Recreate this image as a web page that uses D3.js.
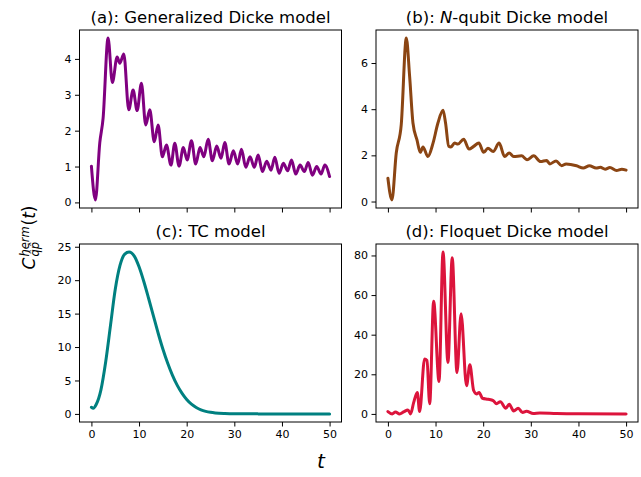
<!DOCTYPE html>
<html>
<head>
<meta charset="utf-8">
<script src="https://cdn.jsdelivr.net/npm/d3@7"></script>
<style>
  body { margin: 0; background: #fff; }
  text { font-family: "DejaVu Sans", sans-serif; }
</style>
</head>
<body>
<div id="chart"></div>
<script>
// (a) Generalized Dicke model
var tA = [0, 0.84, 1.75, 2.45, 3.5, 4.4, 5.4, 5.95, 6.8, 7.84, 8.75, 9.6, 10.5, 11.4, 12.25, 13.2, 14, 14.9,
  15.75, 16.7, 17.5, 18.4, 19.3, 20.1, 21, 21.9, 22.8, 23.6, 24.5, 25.4, 26.3, 27.2, 28, 28.9, 29.8, 30.7,
  31.5, 32.4, 33.3, 34.2, 35, 35.9, 36.8, 37.7, 38.5, 39.4, 40.3, 41.2, 42, 42.9, 43.8, 44.7, 45.5, 46.4,
  47.3, 48.2, 49, 50];
var cA = [1.01, 0.07, 1.65, 2.34, 4.58, 3.34, 4.05, 3.88, 4.14, 2.58, 3.13, 2.56, 3.32, 2.16, 2.58, 1.69, 2.16, 1.27,
  1.6, 1.04, 1.65, 1.01, 1.53, 1.18, 1.72, 1.07, 1.53, 1.27, 1.76, 1.16, 1.57, 1.23, 1.67, 1.07, 1.44, 1.07,
  1.48, 0.98, 1.27, 0.98, 1.32, 0.86, 1.15, 0.9, 1.26, 0.81, 1.09, 0.88, 1.18, 0.79, 1.04, 0.86, 1.11, 0.76,
  1.0, 0.79, 1.04, 0.72];

// (b) N-qubit Dicke model
var tB = [0, 0.84, 1.75, 2.8, 3.86, 4.56, 5.26, 6.1, 6.8, 7.36, 8.4, 9.47, 10.5, 11.57, 12.1, 12.76, 13.2, 14,
  14.7, 15.9, 17.04, 18, 19.1, 20.1, 21, 22.1, 23.35, 24.5, 25.46, 26.4, 28.05, 29.2, 30.6, 32.05, 33.3, 34,
  35.3, 36.5, 37.4, 39.6, 41, 42.3, 43.7, 44.6, 45.6, 46.6, 48, 49.1, 50];
var cB = [1.01, 0.07, 2.1, 3.33, 7.08, 5.42, 3.4, 2.67, 2.13, 2.36, 1.95, 2.53, 3.4, 3.95, 3.4, 2.39, 2.36, 2.53,
  2.49, 2.7, 2.27, 2.39, 2.53, 2.13, 2.31, 2.17, 2.53, 1.95, 2.1, 1.95, 1.98, 1.81, 1.98, 1.73, 1.78, 1.63,
  1.76, 1.55, 1.63, 1.55, 1.45, 1.55, 1.45, 1.48, 1.4, 1.47, 1.34, 1.4, 1.36];

// (c) TC model
var tC = [0, 0.4, 1, 2, 3, 4, 5, 6, 7, 7.9, 9, 10, 11, 12, 13, 14, 15, 16, 17, 18, 19, 20,
  21, 22, 23, 24, 25, 26, 28, 30, 35, 40, 50];
var cC = [1.0, 0.85, 1.4, 3.6, 7.8, 13.2, 18.6, 22.2, 23.9, 24.2, 23.6, 22.0, 19.8, 17.3, 14.7, 12.1, 9.7, 7.6, 5.8, 4.3, 3.1, 2.15,
  1.45, 0.95, 0.6, 0.38, 0.24, 0.15, 0.06, 0.02, 0.005, 0, 0];

// (d) Floquet Dicke model
var tD = [0, 0.9, 1.6, 2.45, 3.3, 4.2, 4.77, 5.4, 6.17, 6.66, 7.7, 8.2, 8.77, 9.6, 10.73, 11.57, 12.6, 13.5,
  14.5, 15.36, 16.5, 17.2, 18, 18.6, 19.15, 19.85, 21.04, 22.1, 22.8, 23.6, 24.75, 25.46, 26.4, 27.35,
  28.26, 29.1, 30.5, 31.9, 35.4, 40, 50];
var cD = [1.2, 0, 1, 0, 1, 2, 0, 5.7, 10.8, 1.2, 27.7, 27, 5.1, 56.9, 16.4, 81.7, 26, 78.8,
  20.9, 50.6, 14.2, 24.8, 11.8, 10.1, 10.8, 7.9, 7.4, 6.75, 5.1, 6.2, 2.9, 4.9, 1.5, 2.9,
  0.7, 1.35, 0.2, 0.5, 0.2, 0.05, 0];

var xTicks = [0, 10, 20, 30, 40, 50];
var yTicksA = [0, 1, 2, 3, 4];
var yTicksB = [0, 2, 4, 6];
var yTicksC = [0, 5, 10, 15, 20, 25];
var yTicksD = [0, 20, 40, 60, 80];

var w = 641, h = 477;
var pw = 262, ph = 178;

var svg = d3.select("#chart").append("svg")
    .attr("width", w)
    .attr("height", h);

var panels = [
  {t: tA, v: cA, yTicks: yTicksA, color: "#800080", left: 79.5, top: 30, xLabels: false, title: ["(a): Generalized Dicke model"]},
  {t: tB, v: cB, yTicks: yTicksB, color: "#8b4513", left: 376, top: 30, xLabels: false, title: ["(b): ", "N", "-qubit Dicke model"]},
  {t: tC, v: cC, yTicks: yTicksC, color: "#008080", left: 79.5, top: 244, xLabels: true, title: ["(c): TC model"]},
  {t: tD, v: cD, yTicks: yTicksD, color: "#dc143c", left: 376, top: 244, xLabels: true, title: ["(d): Floquet Dicke model"]}
];

panels.forEach(function(p) {
  var g = svg.append("g").attr("transform", "translate(" + p.left + "," + p.top + ")");

  var xScale = d3.scaleLinear().domain([-2.5, 52.5]).range([0, pw]);
  var ext = d3.extent(p.v), pad = (ext[1] - ext[0]) * 0.05;
  var yScale = d3.scaleLinear().domain([ext[0] - pad, ext[1] + pad]).range([ph, 0]);

  var xAxis = d3.axisBottom(xScale).tickValues(xTicks).tickSize(4.5).tickPadding(3.5).tickSizeOuter(0);
  if (!p.xLabels) xAxis.tickFormat("");
  var gx = g.append("g").attr("transform", "translate(0," + ph + ")").call(xAxis);

  var gy = g.append("g")
      .call(d3.axisLeft(yScale).tickValues(p.yTicks).tickFormat(d3.format("d"))
        .tickSize(4.5).tickPadding(3.5).tickSizeOuter(0));

  [gx, gy].forEach(function(a) {
    a.select(".domain").remove();
    a.selectAll("text").attr("font-size", "11px").attr("fill", "#000")
        .attr("font-family", "DejaVu Sans");
    a.selectAll("line").attr("stroke", "#000").attr("stroke-width", 1);
  });

  var line = d3.line()
      .x(function(d, i) { return xScale(p.t[i]); })
      .y(function(d) { return yScale(d); })
      .curve(d3.curveMonotoneX);

  g.append("path")
      .datum(p.v)
      .attr("fill", "none")
      .attr("stroke", p.color)
      .attr("stroke-width", 3)
      .attr("stroke-linejoin", "round")
      .attr("stroke-linecap", "round")
      .attr("d", line);

  g.append("rect")
      .attr("width", pw)
      .attr("height", ph)
      .attr("fill", "none")
      .attr("stroke", "#000")
      .attr("stroke-width", 1);

  var title = g.append("text")
      .attr("x", pw / 2)
      .attr("y", -7)
      .attr("text-anchor", "middle")
      .attr("font-size", "16.5px");
  p.title.forEach(function(s, i) {
    title.append("tspan").attr("font-style", i == 1 ? "italic" : "normal").text(s);
  });
});

// shared x label
svg.append("text")
    .attr("x", 321)
    .attr("y", 468)
    .attr("text-anchor", "middle")
    .attr("font-size", "20px")
    .attr("font-style", "italic")
    .text("t");

// shared y label, rotated
var yl = svg.append("g").attr("transform", "translate(31,238.5) rotate(-90)");
yl.append("text").attr("x", -31).attr("y", 4).attr("font-size", "17px").attr("font-style", "italic").text("C");
yl.append("text").attr("x", -18).attr("y", -2).attr("font-size", "11.5px").attr("font-style", "italic").text("herm");
yl.append("text").attr("x", -18).attr("y", 8).attr("font-size", "11.5px").attr("font-style", "italic").text("q\u0302p\u0302");
yl.append("text").attr("x", 13).attr("y", 4).attr("font-size", "17px").text("(")
  .append("tspan").attr("font-style", "italic").text("t")
  .select(function() { return this.parentNode; })
  .append("tspan").text(")");
</script>
</body>
</html>
